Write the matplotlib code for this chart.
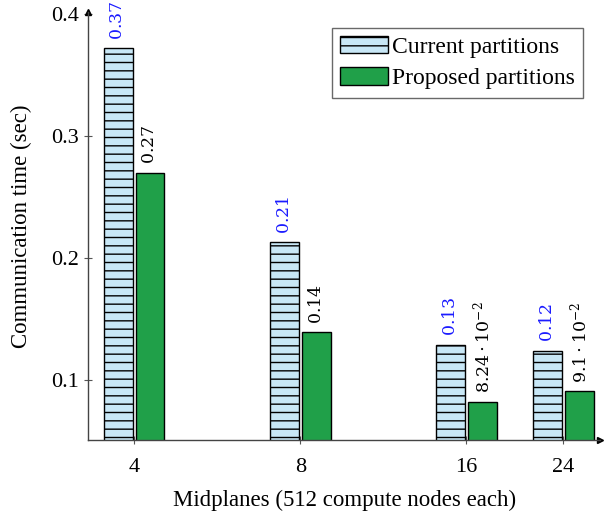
import matplotlib.pyplot as plt
from matplotlib.ticker import FixedLocator, FixedFormatter, NullLocator
import numpy as np

plt.rcParams['font.family'] = ['Liberation Serif', 'DejaVu Serif']
plt.rcParams['mathtext.fontset'] = 'dejavuserif'
plt.rcParams['hatch.linewidth'] = 1.0

midplanes = [4, 8, 16, 24]
current = [0.372, 0.213, 0.129, 0.124]
proposed = [0.270, 0.139, 0.0824, 0.091]
current_labels = ['$0.37$', '$0.21$', '$0.13$', '$0.12$']
proposed_labels = ['$0.27$', '$0.14$', r'$8.24\cdot10^{-2}$', r'$9.1\cdot10^{-2}$']

light_blue = '#c8e7f6'
green = '#20a049'

fig = plt.figure(figsize=(6.04, 5.12), dpi=100)
ax = fig.add_axes([0.146, 0.141, 0.848, 0.836])
ax.set_xscale('log', base=2)

# bar width and gap measured in octaves so every bar looks the same on the log axis
w = 0.172
g = 0.02
x = np.array(midplanes, dtype=float)
left_c = x * 2 ** (-w - g / 2)
right_c = x * 2 ** (-g / 2)
left_p = x * 2 ** (g / 2)
right_p = x * 2 ** (w + g / 2)

ax.bar(left_c, current, width=right_c - left_c, bottom=0,
       align='edge', color=light_blue, edgecolor='black', linewidth=1.0,
       hatch='--', label='Current partitions', zorder=2)
ax.bar(left_p, proposed, width=right_p - left_p, bottom=0,
       align='edge', color=green, edgecolor='black', linewidth=1.0,
       label='Proposed partitions', zorder=2)

for xc, v, s in zip(np.sqrt(left_c * right_c), current, current_labels):
    ax.annotate(s, (xc, v), xytext=(0, 6), textcoords='offset points',
                rotation=90, ha='center', va='bottom', color='#1a1aff', fontsize=12.5)
for xp, v, s in zip(np.sqrt(left_p * right_p), proposed, proposed_labels):
    ax.annotate(s, (xp, v), xytext=(0, 6), textcoords='offset points',
                rotation=90, ha='center', va='bottom', color='black', fontsize=12.5)

ax.set_xlim(3.30, 28.0)
ax.set_ylim(0.051, 0.402)
ax.xaxis.set_major_locator(FixedLocator(midplanes))
ax.xaxis.set_major_formatter(FixedFormatter([str(m) for m in midplanes]))
ax.xaxis.set_minor_locator(NullLocator())
ax.set_yticks([0.1, 0.2, 0.3, 0.4])
ax.set_yticklabels(['0.1', '0.2', '0.3', '0.4'])
ax.tick_params(axis='both', direction='inout', length=6, width=0.8,
               color='#555555', labelsize=16)
ax.tick_params(axis='x', pad=10)

for side in ('top', 'right'):
    ax.spines[side].set_visible(False)
for side in ('left', 'bottom'):
    ax.spines[side].set_color('#444444')
    ax.spines[side].set_linewidth(1.0)

# arrow heads at the ends of both axis lines
ax.plot(1, 0, '>', color='black', ms=5, transform=ax.transAxes, clip_on=False)
ax.plot(0, 1, '^', color='black', ms=5, transform=ax.transAxes, clip_on=False)

ax.set_xlabel('Midplanes (512 compute nodes each)', fontsize=16.5, labelpad=9)
ax.set_ylabel('Communication time (sec)', fontsize=16.5, labelpad=14)

leg = ax.legend(loc='upper right', fontsize=17, frameon=True, fancybox=False,
                edgecolor='#444444', handlelength=2.0, handleheight=0.75,
                handletextpad=0.2, borderpad=0.35, labelspacing=0.4,
                bbox_to_anchor=(0.99, 0.99))
leg.get_frame().set_linewidth(1.0)

fig.savefig('out.png', dpi=100)
